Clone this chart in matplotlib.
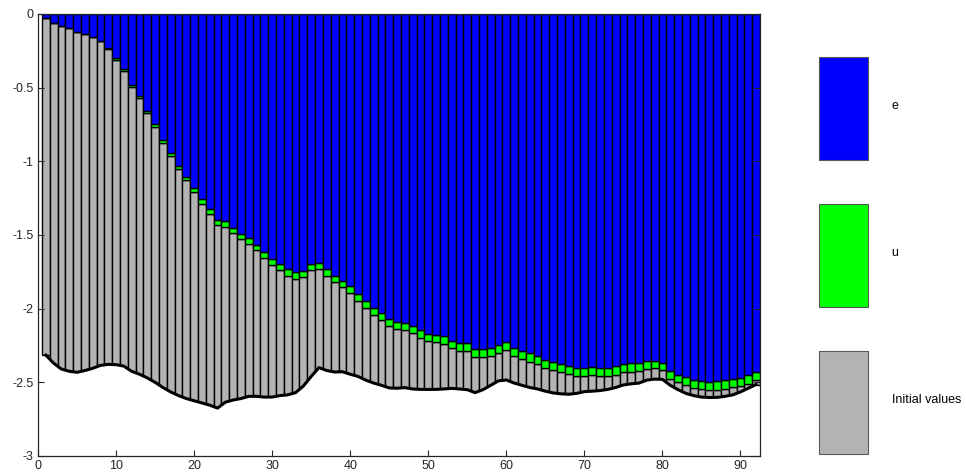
import numpy as np
import matplotlib
matplotlib.use("Agg")
import matplotlib.pyplot as plt
from matplotlib.patches import Patch
from matplotlib.ticker import FuncFormatter

plt.rcParams['font.family'] = ['Liberation Sans', 'DejaVu Sans']
plt.rcParams['axes.unicode_minus'] = False

# top of the gray "Initial values" bars (one per cell, x = 1..92)
init_top = [-0.027, -0.059, -0.079, -0.097, -0.122, -0.136, -0.156, -0.186, -0.240, -0.310,
            -0.387, -0.496, -0.568, -0.674, -0.767, -0.876, -0.964, -1.052, -1.129, -1.208,
            -1.290, -1.357, -1.430, -1.443, -1.486, -1.529, -1.563, -1.604, -1.658, -1.706,
            -1.738, -1.776, -1.799, -1.787, -1.738, -1.733, -1.776, -1.821, -1.855, -1.891,
            -1.950, -1.996, -2.043, -2.077, -2.118, -2.140, -2.145, -2.168, -2.197, -2.222,
            -2.228, -2.242, -2.269, -2.289, -2.289, -2.330, -2.330, -2.321, -2.301, -2.283,
            -2.323, -2.344, -2.360, -2.376, -2.405, -2.419, -2.432, -2.446, -2.457, -2.455,
            -2.452, -2.457, -2.457, -2.448, -2.432, -2.428, -2.421, -2.407, -2.405, -2.416,
            -2.477, -2.500, -2.520, -2.540, -2.547, -2.552, -2.550, -2.542, -2.534, -2.527,
            -2.511, -2.484]

# thickness of the green "u" layer
u = [0.0, 0.0, 0.0, 0.0, 0.0, 0.0, 0.0, 0.003, 0.008, 0.011,
     0.012, 0.012, 0.013, 0.013, 0.018, 0.019, 0.021, 0.022, 0.023, 0.027,
     0.032, 0.031, 0.034, 0.038, 0.036, 0.038, 0.040, 0.036, 0.043, 0.041,
     0.041, 0.045, 0.046, 0.043, 0.039, 0.041, 0.043, 0.043, 0.045, 0.043,
     0.047, 0.046, 0.047, 0.045, 0.048, 0.052, 0.045, 0.052, 0.052, 0.052,
     0.051, 0.054, 0.052, 0.054, 0.054, 0.054, 0.054, 0.054, 0.054, 0.054,
     0.054, 0.054, 0.057, 0.057, 0.057, 0.057, 0.056, 0.055, 0.054, 0.052,
     0.056, 0.056, 0.056, 0.057, 0.056, 0.057, 0.050, 0.052, 0.052, 0.049,
     0.056, 0.052, 0.054, 0.056, 0.054, 0.057, 0.057, 0.055, 0.056, 0.058,
     0.058, 0.054]

# bottom profile (black line)
bed = [-2.315, -2.370, -2.410, -2.425, -2.432, -2.420, -2.405, -2.385, -2.378, -2.380,
       -2.390, -2.425, -2.445, -2.470, -2.500, -2.535, -2.565, -2.590, -2.610, -2.625,
       -2.640, -2.655, -2.675, -2.635, -2.620, -2.610, -2.595, -2.595, -2.600, -2.600,
       -2.590, -2.585, -2.570, -2.525, -2.460, -2.400, -2.420, -2.430, -2.428, -2.445,
       -2.460, -2.485, -2.505, -2.520, -2.538, -2.540, -2.536, -2.545, -2.548, -2.548,
       -2.548, -2.545, -2.541, -2.545, -2.550, -2.570, -2.550, -2.520, -2.490, -2.484,
       -2.505, -2.520, -2.535, -2.545, -2.560, -2.572, -2.578, -2.581, -2.575, -2.563,
       -2.560, -2.556, -2.548, -2.535, -2.518, -2.510, -2.505, -2.485, -2.478, -2.480,
       -2.520, -2.550, -2.575, -2.590, -2.600, -2.603, -2.602, -2.595, -2.585, -2.565,
       -2.540, -2.515]

labels = ["e", "u", "Initial values"]

x = np.arange(1, len(init_top) + 1)
init_top = np.array(init_top)
u = np.array(u)
bed = np.array(bed)
u_top = init_top + u

# gray bars reach a bit below the profile, the white fill trims them to the line
base = bed.copy()
base[1:-1] = np.minimum(np.minimum(bed[:-2], bed[1:-1]), bed[2:]) - 0.01

c_e = (0, 0, 1)
c_u = (0, 1, 0)
c_init = (0.7, 0.7, 0.7)

fig = plt.figure(figsize=(9.66, 4.75), dpi=100)
ax = fig.add_axes([38 / 966, 19 / 475, 722 / 966, 442 / 475])

ax.bar(x, init_top - base, bottom=base, width=1, color=c_init, edgecolor="k", linewidth=1.0, zorder=1)
ax.bar(x, u, bottom=init_top, width=1, color=c_u, edgecolor="k", linewidth=1.0, zorder=1)
ax.bar(x, -u_top, bottom=u_top, width=1, color=c_e, edgecolor="k", linewidth=1.0, zorder=1)
ax.fill_between(x, bed, -3, color="white", linewidth=0, zorder=1.5)
ax.plot(x, bed, "-", color="k", linewidth=2.2, zorder=2)

ax.set_xlim(0, 92.5)
ax.set_ylim(-3, 0)
ax.set_xticks(np.arange(0, 91, 10))
ax.set_yticks(np.arange(-3, 0.01, 0.5))
ax.yaxis.set_major_formatter(FuncFormatter(lambda v, p: "%g" % v))
ax.tick_params(direction="in", length=4, width=0.8, labelsize=9, colors="0.15",
               right=True, top=False, pad=3)
for s in ax.spines.values():
    s.set_color("0.15")
    s.set_linewidth(0.9)

handles = [Patch(facecolor=c, edgecolor="0.35", linewidth=0.8) for c in (c_e, c_u, c_init)]
fig.legend(handles, labels, loc="upper left", bbox_to_anchor=(819 / 966, 1 - 57 / 475),
           frameon=False, fontsize=9, handlelength=3.9, handleheight=12.3,
           handletextpad=1.9, labelspacing=3.5, borderpad=0, borderaxespad=0)

fig.savefig("out.png", dpi=100)
